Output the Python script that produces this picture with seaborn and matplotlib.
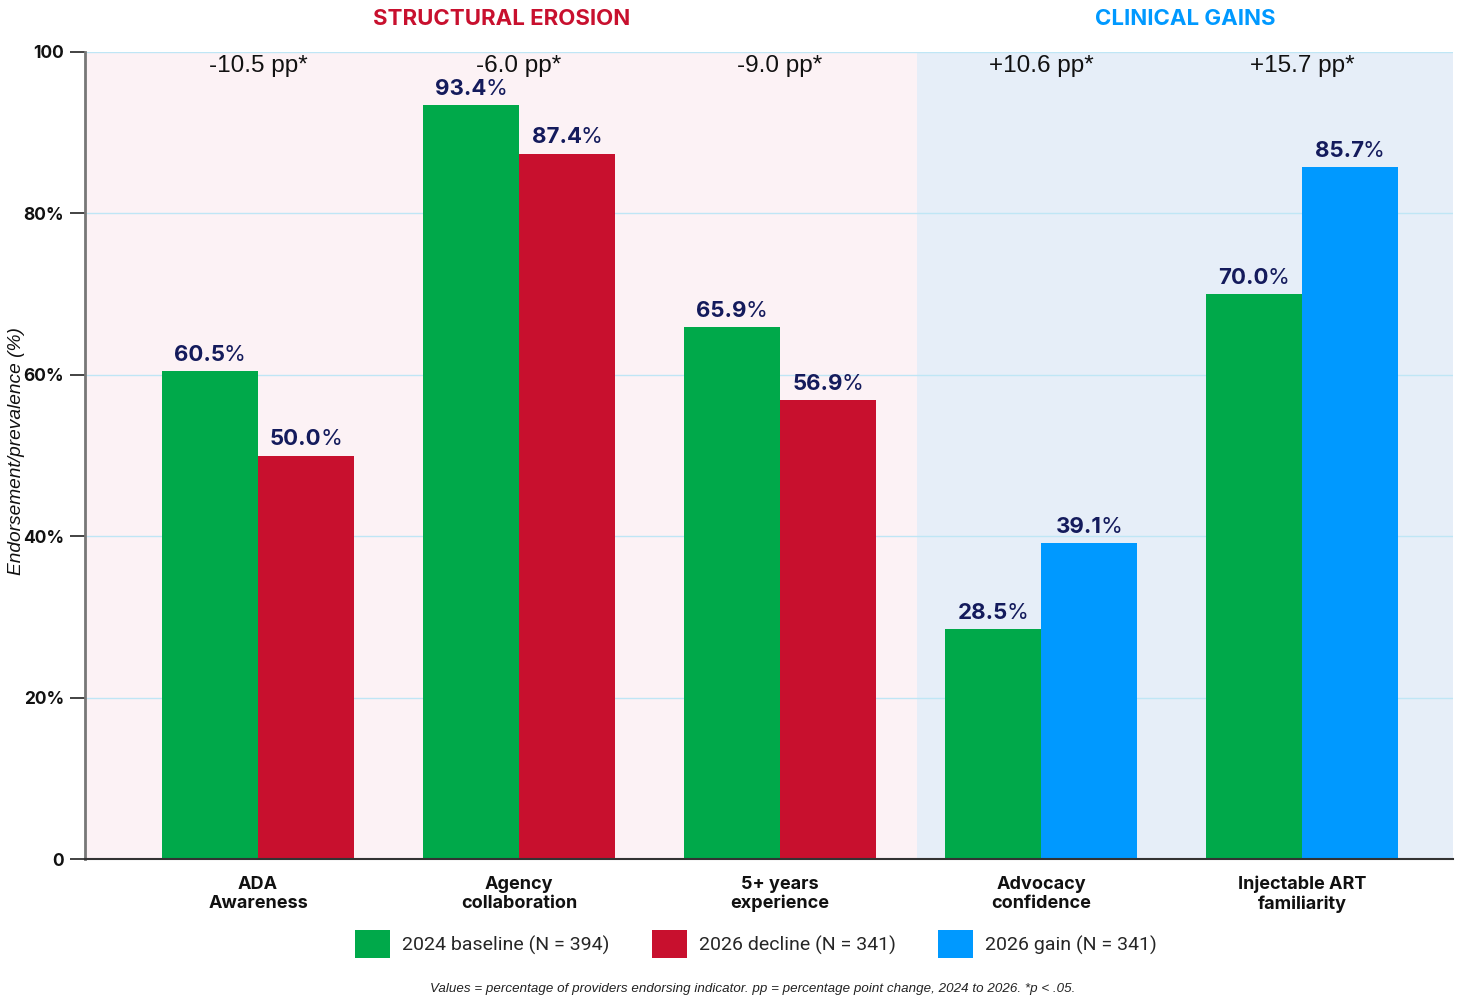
import matplotlib
matplotlib.use("Agg")
import matplotlib.pyplot as plt
from matplotlib.patches import Patch
import seaborn as sns
import pandas as pd

# ---------------- data ----------------
categories = ["ADA\nAwareness", "Agency\ncollaboration", "5+ years\nexperience",
              "Advocacy\nconfidence", "Injectable ART\nfamiliarity"]
baseline_2024 = [60.5, 93.4, 65.9, 28.5, 70.0]
followup_2026 = [50.0, 87.4, 56.9, 39.1, 85.7]
change_labels = ["-10.5 pp*", "-6.0 pp*", "-9.0 pp*", "+10.6 pp*", "+15.7 pp*"]
followup_kind = ["decline", "decline", "decline", "gain", "gain"]
section_titles = ["STRUCTURAL EROSION", "CLINICAL GAINS"]
legend_labels = ["2024 baseline (N = 394)", "2026 decline (N = 341)", "2026 gain (N = 341)"]
yticks = [0, 20, 40, 60, 80, 100]
ytick_labels = ["0", "20%", "40%", "60%", "80%", "100"]
footnote = "Values = percentage of providers endorsing indicator. pp = percentage point change, 2024 to 2026. *p < .05."

GREEN = "#00A94A"
RED = "#C8102E"
BLUE = "#0099FF"
NAVY = "#141B5C"
PINK_BG = "#FCF2F5"
BLUE_BG = "#E6EEF8"
GRID = "#BFE6F5"

df = pd.DataFrame({
    "category": categories * 2,
    "period": ["2024"] * len(categories) + ["2026"] * len(categories),
    "value": baseline_2024 + followup_2026,
})

sns.set_theme(style="white")
plt.rcParams["font.family"] = ["Inter", "DejaVu Sans"]

W, H = 1458, 998
fig = plt.figure(figsize=(W / 100, H / 100), dpi=100)
ax = fig.add_axes([85 / W, 1 - 859 / H, (1453 - 85) / W, (859 - 52) / H])

sns.barplot(data=df, x="category", y="value", hue="period", order=categories,
            hue_order=["2024", "2026"], width=0.736, palette=[GREEN, RED],
            legend=False, ax=ax, saturation=1, zorder=3)

# recolor 2026 bars according to decline / gain
for patch, kind in zip(ax.containers[1], followup_kind):
    patch.set_facecolor(RED if kind == "decline" else BLUE)
for c in ax.containers:
    for p in c:
        p.set_edgecolor("none")
        p.set_linewidth(0)

xmin, xmax = -0.663, 4.579
divider = 2.527
ax.set_xlim(xmin, xmax)
ax.set_ylim(0, 100)
ax.axvspan(xmin, divider, color=PINK_BG, zorder=0, lw=0)
ax.axvspan(divider, xmax, color=BLUE_BG, zorder=0, lw=0)

ax.set_yticks(yticks)
ax.set_yticklabels(ytick_labels, fontsize=12.5, fontweight="bold", color="#111111")
for y in yticks[1:]:
    ax.axhline(y, color=GRID, lw=1, zorder=1)
ax.tick_params(axis="y", length=11, width=1.2, color="#222222", pad=4, left=True)
ax.tick_params(axis="x", length=0, pad=12)
ax.set_xticks(range(len(categories)))
ax.set_xticklabels(categories, fontsize=13, fontweight="bold", color="#111111",
                   linespacing=1.15)
ax.set_xlabel("")
ax.set_ylabel("Endorsement/prevalence (%)", fontsize=13.8, fontstyle="italic",
              color="#111111", family=["Liberation Sans", "DejaVu Sans"])
ax.yaxis.label.set_va("center")
ax.yaxis.label.set_ha("center")
ax.yaxis.set_label_coords((17 - 85) / 1368, 0.505)

for side in ["top", "right"]:
    ax.spines[side].set_visible(False)
ax.spines["left"].set_color("#777777")
ax.spines["left"].set_linewidth(2)
ax.spines["bottom"].set_color("#333333")
ax.spines["bottom"].set_linewidth(1.5)
ax.spines["left"].set_zorder(5)
ax.spines["bottom"].set_zorder(5)

# change labels near top
for i, lab in enumerate(change_labels):
    ax.text(i, 98.3, lab, ha="center", va="center", fontsize=17.5, color="#111111",
            family=["Liberation Sans", "DejaVu Sans"], zorder=6)

# value labels: bold number + regular %
OFF = 4.5
GAP = -1.0
pairs = []
for cont in ax.containers:
    for p in cont:
        xc = p.get_x() + p.get_width() / 2
        h = p.get_height()
        t1 = ax.annotate(f"{h:.1f}", xy=(xc, h), xytext=(0, OFF), textcoords="offset points",
                         ha="center", va="bottom", fontsize=16, fontweight="bold",
                         color=NAVY, zorder=6)
        t2 = ax.annotate("%", xy=(1, 0), xycoords=t1, xytext=(GAP, 0),
                         textcoords="offset points", ha="left", va="bottom",
                         fontsize=16, color=NAVY, zorder=6)
        pairs.append((t1, t2))

fig.canvas.draw()
for t1, t2 in pairs:
    w = t2.get_window_extent().width + GAP * fig.dpi / 72
    t1.set_position((-(w / 2) * 72 / fig.dpi, OFF))

# section titles
div_px = 85 + (divider - xmin) / (xmax - xmin) * 1368
pink_center = (85 + div_px) / 2 / W
blue_center = (div_px + 1453) / 2 / W
fig.text(pink_center, 1 - 19 / H, section_titles[0], ha="center", va="center",
         fontsize=16, fontweight="bold", color=RED)
fig.text(blue_center, 1 - 19 / H, section_titles[1], ha="center", va="center",
         fontsize=16, fontweight="bold", color=BLUE)

# legend
handles = [Patch(facecolor=GREEN, edgecolor="none"),
           Patch(facecolor=RED, edgecolor="none"),
           Patch(facecolor=BLUE, edgecolor="none")]
fig.legend(handles, legend_labels, loc="center", bbox_to_anchor=(756 / W, 1 - 944 / H),
           ncol=3, frameon=False, handlelength=1.8, handleheight=1.8, handletextpad=0.6,
           columnspacing=2.2, prop={"family": ["Liberation Sans Narrow", "Roboto"], "size": 14})

fig.text(753 / W, 1 - 989 / H, footnote, ha="center", va="center", fontsize=9.6,
         fontstyle="italic", color="#222222",
         family=["Liberation Sans Narrow", "Liberation Sans", "DejaVu Sans"])

fig.savefig("out.png", dpi=100)
